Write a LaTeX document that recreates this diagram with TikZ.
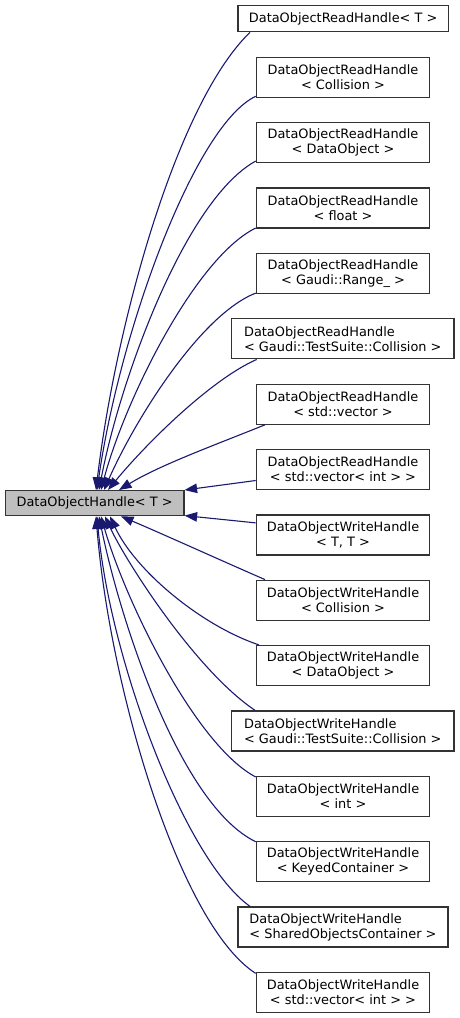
\documentclass[tikz,border=0pt]{standalone}
\usepackage{fontspec}
\setmainfont{DejaVu Sans}
\usetikzlibrary{arrows.meta}
\definecolor{edgec}{HTML}{191970}
\definecolor{boxc}{HTML}{333333}
\definecolor{mainfill}{HTML}{BFBFBF}
\newcommand{\dfont}{\fontsize{12.9pt}{15pt}\selectfont}
\begin{document}
\begin{tikzpicture}[x=1pt,y=-1pt,
  box/.style={draw=boxc, line width=1.3pt, minimum width=173.3pt, minimum height=40pt,
    inner sep=0pt, align=center, anchor=north west, font=\dfont, text=black},
  widebox/.style={box, align=left},
  mainbox/.style={box, fill=mainfill, minimum width=178.6pt, minimum height=25pt},
  edge/.style={draw=edgec, line width=1.1pt, -{Triangle[length=12.5pt,width=9.5pt]}, edgec}
]
\useasboundingbox (0,0) rectangle (459,1018);

\node[mainbox] (m) at (4.7,490) {DataObjectHandle< T >};

\node[box, minimum width=210.4pt, minimum height=26pt] (c1) at (237.3,5) {DataObjectReadHandle< T >};
\node[box] (c2) at (255.7,56.7) {DataObjectReadHandle\\< Collision >};
\node[box] (c3) at (255.7,122.06) {DataObjectReadHandle\\< DataObject >};
\node[box] (c4) at (255.7,187.42) {DataObjectReadHandle\\< float >};
\node[box] (c5) at (255.7,252.78) {DataObjectReadHandle\\< Gaudi::Range\_ >};
\node[widebox, minimum width=222.3pt] (c6) at (231,318.14) {DataObjectReadHandle\\< Gaudi::TestSuite::Collision >};
\node[box] (c7) at (255.7,383.5) {DataObjectReadHandle\\< std::vector >};
\node[box] (c8) at (255.7,448.86) {DataObjectReadHandle\\< std::vector< int > >};
\node[box] (c9) at (255.7,514.22) {DataObjectWriteHandle\\< T, T >};
\node[box] (c10) at (255.7,579.58) {DataObjectWriteHandle\\< Collision >};
\node[box] (c11) at (255.7,644.94) {DataObjectWriteHandle\\< DataObject >};
\node[widebox, minimum width=222.3pt] (c12) at (231,710.3) {DataObjectWriteHandle\\< Gaudi::TestSuite::Collision >};
\node[box] (c13) at (255.7,775.66) {DataObjectWriteHandle\\< int >};
\node[box] (c14) at (255.7,841.02) {DataObjectWriteHandle\\< KeyedContainer >};
\node[widebox, minimum width=210pt] (c15) at (237.3,906.38) {DataObjectWriteHandle\\< SharedObjectsContainer >};
\node[box] (c16) at (255.7,971.74) {DataObjectWriteHandle\\< std::vector< int > >};

% upper edges
\draw[edge] ([xshift=12.7pt]c1.south west) .. controls (175,105) and (115,330) .. ([xshift=91.3pt]m.north west);
\draw[edge] ([yshift=1.7pt]c2.south west) .. controls (195,125) and (120,330) .. ([xshift=92.3pt]m.north west);
\draw[edge] ([yshift=2.3pt]c3.south west) .. controls (185,200) and (120,380) .. ([xshift=94.3pt]m.north west);
\draw[edge] ([yshift=0.7pt]c4.south west) .. controls (195,258) and (125,400) .. ([xshift=96.3pt]m.north west);
\draw[edge] ([yshift=1pt]c5.south west) .. controls (200,315) and (135,420) .. ([xshift=99.3pt]m.north west);
\draw[edge] ([xshift=25.7pt]c6.south west) .. controls (210,380) and (145,445) .. ([xshift=103.3pt]m.north west);
\draw[edge] ([xshift=9.3pt]c7.south west) .. controls (215,445) and (160,465) .. ([xshift=114.3pt]m.north west);
\draw[edge] ([yshift=-11pt]c8.west) -- (m.north east);
% lower edges
\draw[edge] ([yshift=12pt]c9.west) -- ([yshift=0.7pt]m.south east);
\draw[edge] ([xshift=9.3pt]c10.north west) .. controls (220,560) and (165,535) .. ([xshift=116.3pt]m.south west);
\draw[edge] ([xshift=3.3pt]c11.north west) .. controls (200,625) and (135,570) .. ([xshift=105.3pt]m.south west);
\draw[edge] ([xshift=24pt]c12.north west) .. controls (195,670) and (125,560) .. ([xshift=100.3pt]m.south west);
\draw[edge] ([yshift=-1.3pt]c13.north west) .. controls (195,745) and (125,600) .. ([xshift=96.3pt]m.south west);
\draw[edge] ([yshift=-0.7pt]c14.north west) .. controls (180,805) and (120,620) .. ([xshift=94.3pt]m.south west);
\draw[edge] ([xshift=12.7pt]c15.north west) .. controls (185,860) and (110,660) .. ([xshift=92.3pt]m.south west);
\draw[edge] ([yshift=-1.6pt]c16.north west) .. controls (180,925) and (110,690) .. ([xshift=91.3pt]m.south west);
\end{tikzpicture}
\end{document}
